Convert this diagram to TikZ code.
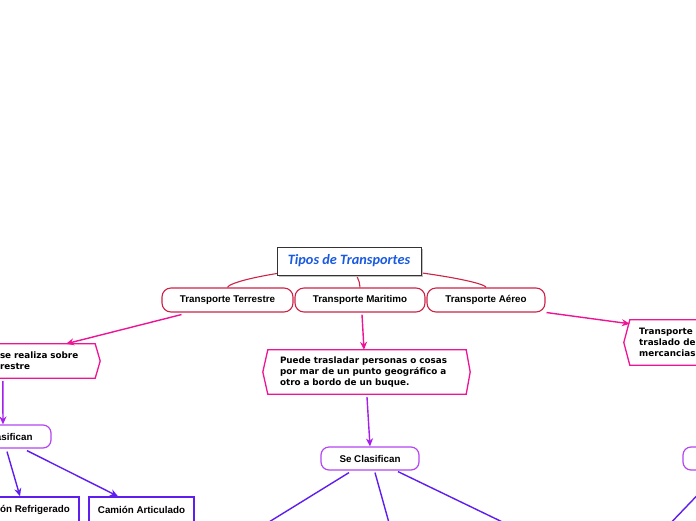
\documentclass[tikz,border=0pt]{standalone}
\usepackage{fontspec}
\setmainfont{Liberation Sans}
\newfontfamily\rootfont{Carlito}
\newfontfamily\verd{DejaVu Sans}
\usetikzlibrary{arrows.meta,calc}
\definecolor{crim}{RGB}{205,35,70}
\definecolor{pinkc}{RGB}{238,20,150}
\definecolor{violc}{RGB}{165,30,235}
\definecolor{seborder}{RGB}{180,70,242}
\definecolor{bluev}{RGB}{95,30,240}
\definecolor{roottxt}{RGB}{25,90,225}
\tikzset{
  rootbox/.style={draw=black!80, line width=1pt, fill=white, minimum width=144pt, minimum height=28pt, inner sep=0pt, font=\rootfont\bfseries\itshape\fontsize{14.3}{16}\selectfont, text=roottxt},
  childbox/.style={draw=crim, line width=1.1pt, fill=white, rounded corners=9pt, minimum height=24pt, inner sep=0pt, font=\bfseries\fontsize{9.8}{11}\selectfont},
  hexbox/.style={inner sep=0pt, align=left, font=\verd\bfseries\fontsize{8.8}{11}\selectfont},
  hexline/.style={draw=pinkc, line width=1.3pt, fill=white, line join=miter},
  clasbox/.style={draw=seborder, line width=1.2pt, fill=white, rounded corners=8pt, minimum width=98pt, minimum height=23pt, inner sep=0pt, font=\bfseries\fontsize{9.8}{11}\selectfont},
  leafbox/.style={draw=bluev, line width=1.4pt, fill=white, minimum height=26pt, inner sep=0pt, font=\bfseries\fontsize{9.8}{11}\selectfont},
  crimcurve/.style={draw=crim, line width=1.1pt},
  pinkarrow/.style={draw=pinkc, line width=1.4pt, -{Stealth[length=8pt,width=7pt]}},
  violarrow/.style={draw=violc, line width=1.4pt, -{Stealth[length=8pt,width=7pt]}},
  bluearrow/.style={draw=bluev, line width=1.4pt, -{Stealth[length=8pt,width=7pt]}},
  blueline/.style={draw=bluev, line width=1.4pt},
}
\begin{document}
\begin{tikzpicture}[x=1pt,y=-1pt]
\useasboundingbox[fill=white] (0,0) rectangle (696,520);

% curves from root to children (drawn under the root box)
\coordinate (rc) at (349,265);
\coordinate (rm) at (352,265);
\node[childbox, minimum width=131pt] (terr) at (227.5,300) {Transporte Terrestre};
\node[childbox, minimum width=130pt] (mari) at (360,300) {Transporte Maritimo};
\node[childbox, minimum width=118pt] (aere) at (486,300) {Transporte Aéreo};
\draw[crimcurve] (rc) .. controls (265,272) and (228,283) .. (terr.north);
\draw[crimcurve] (rm) .. controls (356,276) and (360,280) .. (mari.north);
\draw[crimcurve] (rc) .. controls (433,272) and (486,283) .. (aere.north);
\fill[black!25] (279,249) rectangle (423,277);
\node[rootbox] (root) at (349,261) {Tipos de Transportes};

% hexagons
\node[hexbox, minimum width=95pt, minimum height=34pt] (hexL) at (47.5,361) {};
\path[hexline] ([xshift=-120pt]hexL.north west) -- (hexL.north east) -- ([xshift=5pt]hexL.east) -- (hexL.south east) -- ([xshift=-120pt]hexL.south west) -- cycle;
\node[hexbox, text width=95pt] (hexLt) at (hexL.center) {se realiza sobre\\restre};

\node[hexbox, minimum width=198pt, minimum height=44pt] (hexM) at (367,372) {};
\path[hexline] (hexM.north west) -- (hexM.north east) -- ([xshift=4pt]hexM.east) -- (hexM.south east) -- (hexM.south west) -- ([xshift=-5pt]hexM.west) -- cycle;
\node[hexbox, text width=176pt] (hexMt) at ([xshift=1pt]hexM.center) {Puede trasladar personas o cosas\\por mar de un punto geográfico a\\otro a bordo de un buque.};

\node[hexbox, minimum width=120pt, minimum height=45pt] (hexR) at (690,342.5) {};
\path[hexline] (hexR.north west) -- (hexR.north east) -- (hexR.south east) -- (hexR.south west) -- ([xshift=-6pt]hexR.west) -- cycle;
\node[hexbox, anchor=west] (hexRt) at (639,342.5) {Transporte\\traslado de\\mercancias};

% pink arrows
\draw[pinkarrow] ([xshift=-46pt,yshift=-2pt]terr.south) -- ([xshift=18.5pt]hexL.north);
\draw[pinkarrow] ([xshift=2pt,yshift=-2pt]mari.south) -- ([xshift=-3pt]hexM.north);
\draw[pinkarrow] ([xshift=1pt]aere.south east) -- ([yshift=-4pt]hexR.north west);

% "Se Clasifican" nodes
\node[clasbox] (clasL) at (2,436.5) {Se Clasifican};
\node[clasbox] (clasM) at (370,458.5) {Se Clasifican};
\node[clasbox] (clasR) at (732,458.5) {};

\draw[violarrow] ([xshift=3pt,yshift=-3pt]hexL.south west) -- ([xshift=1pt]clasL.north);
\draw[violarrow] ([yshift=-3pt]hexM.south) -- (clasM.north);

% leaves
\node[leafbox, minimum width=112pt] (refr) at (23,510) {Camión Refrigerado};
\node[leafbox, minimum width=105pt] (artic) at (141.5,510) {Camión Articulado};

\draw[bluearrow] ([xshift=5pt,yshift=-3pt]clasL.south) -- ([xshift=-3pt]refr.north);
\draw[bluearrow] ([xshift=25pt,yshift=-2pt]clasL.south) -- ([xshift=-23.5pt]artic.north);

% lines leaving the picture
\coordinate (mA) at (256,530);
\coordinate (mB) at (391,530);
\coordinate (mC) at (519,530);
\coordinate (rA) at (664,530);
\draw[blueline] ([xshift=-21pt,yshift=-2pt]clasM.south) -- (mA);
\draw[blueline] ([xshift=5pt,yshift=-2pt]clasM.south) -- (mB);
\draw[blueline] ([xshift=28pt,yshift=-1pt]clasM.south) -- (mC);
\draw[blueline] ([xshift=-13pt,yshift=-2pt]clasR.south) -- (rA);
\end{tikzpicture}
\end{document}
